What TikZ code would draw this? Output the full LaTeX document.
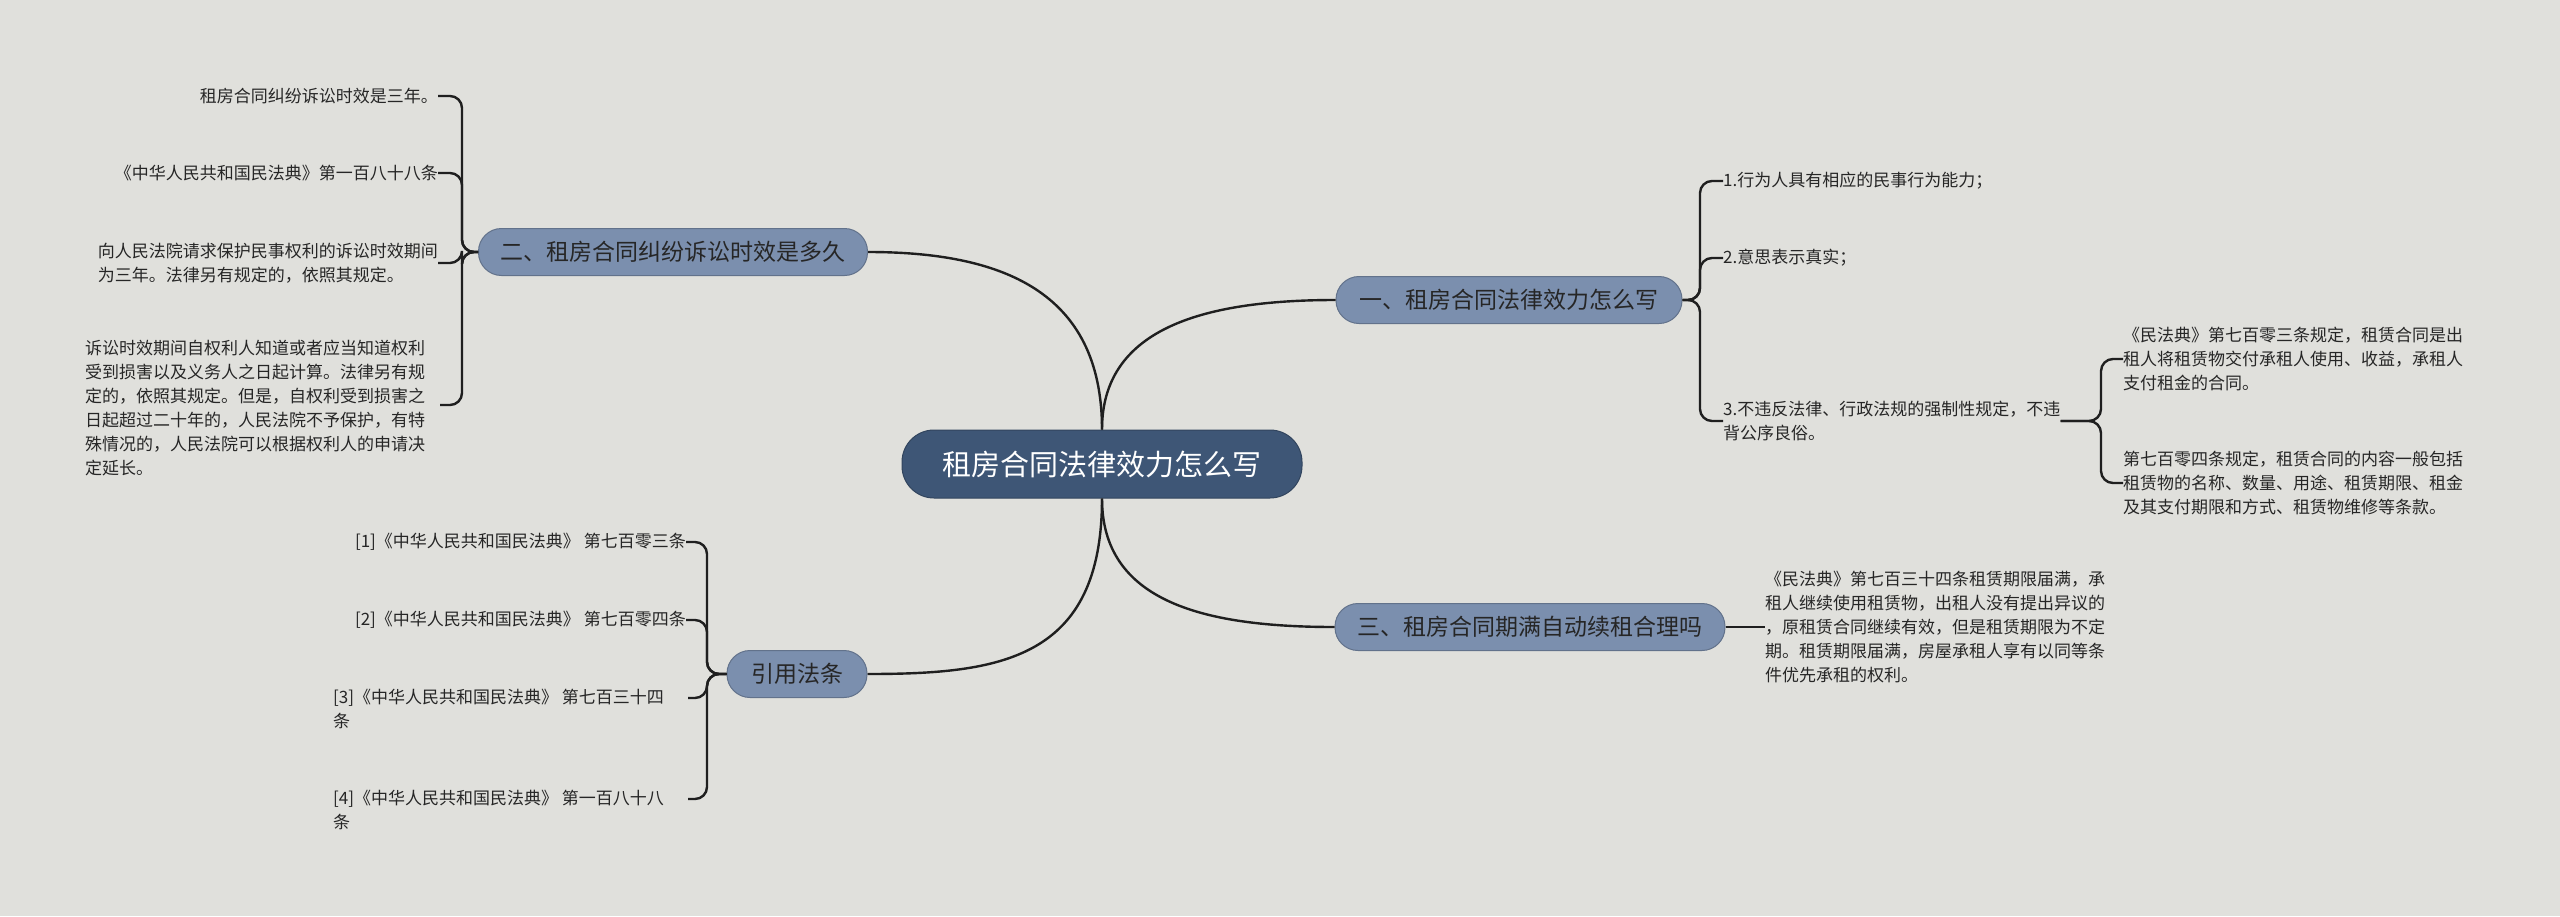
\documentclass[tikz,border=0pt]{standalone}
\usepackage{fontspec}
\setmainfont{Noto Sans CJK SC}
\begin{document}
\begin{tikzpicture}[x=1pt,y=-1pt,
  leaf/.style={inner sep=0pt,align=left,font=\fontsize{17}{24}\selectfont,text=black!85},
  br/.style={fill=brc,draw=brc!80!black,line width=1pt,rounded corners=23,minimum height=47,inner sep=0pt,font=\fontsize{23}{28}\selectfont,text=black!85},
  conn/.style={draw=black!88,line width=2.4pt,rounded corners=12}]
\definecolor{bgc}{RGB}{224,224,220}
\definecolor{brc}{RGB}{123,143,174}
\definecolor{cc}{RGB}{62,86,118}
\fill[bgc] (0,0) rectangle (2560,916);
\useasboundingbox (0,0) rectangle (2560,916);
% center
\node[fill=cc,draw=cc!80!black,line width=1pt,rounded corners=32,minimum width=400,minimum height=68,inner sep=0pt,text=white,font=\fontsize{29}{34}\selectfont] (c) at (1102,464) {租房合同法律效力怎么写};
% branches
\node[br,minimum width=346] (b1) at (1509,300) {一、租房合同法律效力怎么写};
\node[br,minimum width=390] (b3) at (1530,627) {三、租房合同期满自动续租合理吗};
\node[br,minimum width=389] (b2) at (673,252) {二、租房合同纠纷诉讼时效是多久};
\node[br,minimum width=140] (b4) at (797,674) {引用法条};
\draw[conn] (c.north) .. controls (1102,330) and (1200,300) .. (b1.west);
\draw[conn] (c.north) .. controls (1102,290) and (1000,252) .. (b2.east);
\draw[conn] (c.south) .. controls (1102,600) and (1200,627) .. (b3.west);
\draw[conn] (c.south) .. controls (1102,660) and (1000,674) .. (b4.east);
% branch 2 leaves
\node[leaf,anchor=east] (l21) at (438,96) {租房合同纠纷诉讼时效是三年。};
\node[leaf,anchor=east] (l22) at (438,173) {《中华人民共和国民法典》第一百八十八条};
\node[leaf,anchor=east] (l23) at (438,263) {向人民法院请求保护民事权利的诉讼时效期间\\为三年。法律另有规定的，依照其规定。};
\node[leaf,anchor=north west] (l24) at (85,340) {诉讼时效期间自权利人知道或者应当知道权利\\受到损害以及义务人之日起计算。法律另有规\\定的，依照其规定。但是，自权利受到损害之\\日起超过二十年的，人民法院不予保护，有特\\殊情况的，人民法院可以根据权利人的申请决\\定延长。};
\coordinate (j2) at (462,252);
\coordinate (e24) at (440,405);
\foreach \l in {l21,l22,l23} \draw[conn] (b2.west) -- (j2) |- (\l.east);
\draw[conn] (b2.west) -- (j2) |- (e24);
% branch 1 leaves
\node[leaf,anchor=west] (l11) at (1723,181) {1.行为人具有相应的民事行为能力；};
\node[leaf,anchor=west] (l12) at (1723,258) {2.意思表示真实；};
\node[leaf,anchor=west] (l13) at (1723,421) {3.不违反法律、行政法规的强制性规定，不违\\背公序良俗。};
\coordinate (j1) at (1700,300);
\foreach \l in {l11,l12,l13} \draw[conn] (b1.east) -- (j1) |- (\l.west);
\node[leaf,anchor=west] (s1) at (2123,359) {《民法典》第七百零三条规定，租赁合同是出\\租人将租赁物交付承租人使用、收益，承租人\\支付租金的合同。};
\node[leaf,anchor=west] (s2) at (2123,483) {第七百零四条规定，租赁合同的内容一般包括\\租赁物的名称、数量、用途、租赁期限、租金\\及其支付期限和方式、租赁物维修等条款。};
\coordinate (js) at (2101,421);
\foreach \l in {s1,s2} \draw[conn] (l13.east) -- (js) |- (\l.west);
% branch 3 leaf
\node[leaf,anchor=west] (l31) at (1765,627) {《民法典》第七百三十四条租赁期限届满，承\\租人继续使用租赁物，出租人没有提出异议的\\，原租赁合同继续有效，但是租赁期限为不定\\期。租赁期限届满，房屋承租人享有以同等条\\件优先承租的权利。};
\draw[conn] (b3.east) -- (l31.west);
% branch 4 leaves
\node[leaf,anchor=east] (l41) at (686,542) {[1]《中华人民共和国民法典》 第七百零三条};
\node[leaf,anchor=east] (l42) at (686,620) {[2]《中华人民共和国民法典》 第七百零四条};
\node[leaf,anchor=west] (l43) at (333,709) {[3]《中华人民共和国民法典》 第七百三十四\\条};
\node[leaf,anchor=west] (l44) at (333,810) {[4]《中华人民共和国民法典》 第一百八十八\\条};
\coordinate (j4) at (707,674);
\coordinate (e43) at (688,698);
\coordinate (e44) at (688,799);
\foreach \l in {l41,l42} \draw[conn] (b4.west) -- (j4) |- (\l.east);
\draw[conn] (b4.west) -- (j4) |- (e43);
\draw[conn] (b4.west) -- (j4) |- (e44);
\end{tikzpicture}
\end{document}
